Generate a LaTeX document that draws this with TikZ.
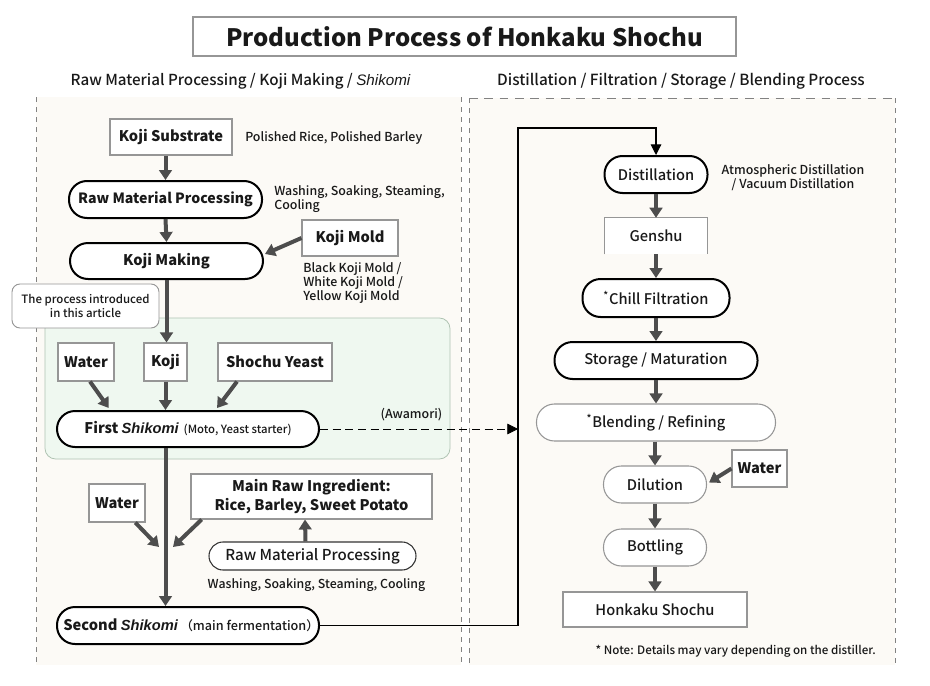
\documentclass[tikz,border=0pt]{standalone}
\usepackage{fontspec}
\setmainfont{Noto Sans CJK JP}
\newfontfamily\med{Noto Sans CJK JP Medium}
\newfontfamily\lib{Liberation Sans}
\usetikzlibrary{arrows.meta,calc}
\definecolor{panel}{RGB}{252,250,246}
\definecolor{greenfill}{RGB}{239,248,240}
\definecolor{greenline}{RGB}{175,195,178}
\definecolor{boxline}{RGB}{150,150,150}
\definecolor{arrgray}{RGB}{77,77,77}
\definecolor{txt}{RGB}{25,25,25}
\definecolor{dashcol}{RGB}{130,130,130}
\tikzset{
  sz/.style n args={2}{minimum width=#1*0.75pt, minimum height=#2*0.75pt},
  every node/.style={inner sep=0pt, text=txt, align=center},
  lbl/.style={font=\fontsize{11}{13}\selectfont\bfseries},
  mlbl/.style={font=\fontsize{11}{13}\selectfont\mdseries\med},
  sqbox/.style={draw=boxline, fill=white, line width=0.8pt, lbl},
  thickpill/.style={draw=black, fill=white, line width=1.5pt, rounded corners=13.5pt, lbl},
  thinpill/.style={draw=boxline, fill=white, line width=0.8pt, rounded corners=13.5pt, mlbl},
  flow/.style={draw=arrgray, line width=3pt, -{Triangle[width=9.5pt,length=7.5pt]}},
  link/.style={draw=black, line width=0.8pt, -{Triangle[width=8pt,length=8pt]}},
  desc/.style={font=\fontsize{9.3}{10.5}\selectfont\med, align=left},
  vdash/.style={draw=dashcol, line width=0.6pt, dash pattern=on 3.75pt off 3.75pt},
  hdash/.style={draw=dashcol, line width=0.6pt, dash pattern=on 6.5pt off 5pt},
}
\begin{document}
\begin{tikzpicture}[x=0.75pt,y=-0.75pt]
\useasboundingbox (0,0) rectangle (930,685);
\fill[white] (0,0) rectangle (930,685);

% title and headers
\node[draw=boxline, line width=0.8pt, sz={543}{39}, font=\fontsize{18}{21}\selectfont\bfseries] (title) at (464.5,36.5) {Production Process of Honkaku Shochu};
\node[font=\fontsize{11.4}{13}\selectfont\med] (hl) at (240.5,81) {Raw Material Processing / Koji Making / {\lib\itshape Shikomi}};
\node[font=\fontsize{11.5}{13}\selectfont\med] (hr) at (681,81) {Distillation / Filtration / Storage / Blending Process};

% panels
\fill[panel] (36,97) rectangle (461,665);
\draw[vdash] (36,97) -- (36,665);
\draw[vdash] (461,97) -- (461,665);
\fill[panel] (469,98) rectangle (895,665);
\draw[hdash] (469,98) -- (895,98);
\draw[vdash] (469,98) -- (469,665);
\draw[vdash] (895,98) -- (895,665);
\draw[draw=greenline, fill=greenfill, line width=0.6pt, rounded corners=8pt] (45,318) rectangle (450,459);

% left column
\node[sqbox, sz={122}{36}] (kojisub) at (171,137) {Koji Substrate};
\node[desc, anchor=west] (kojisubd) at (245,138) {Polished Rice, Polished Barley};
\node[thickpill, sz={193}{37}, font=\fontsize{10.6}{13}\selectfont\bfseries] (rmp1) at (165.5,199.5) {Raw Material Processing};
\node[desc, anchor=west] (rmp1d) at (274,199) {Washing, Soaking, Steaming,\\Cooling};
\node[sqbox, sz={96}{36}] (kojimold) at (350,238) {Koji Mold};
\node[desc, anchor=west] (kojimoldd) at (303,283) {Black Koji Mold /\\White Koji Mold /\\Yellow Koji Mold};
\node[thickpill, sz={193}{36}] (kojimaking) at (166.5,261) {Koji Making};
\node[draw=boxline, fill=white, line width=0.7pt, rounded corners=6pt, sz={147}{44}, font=\fontsize{8.6}{11}\selectfont\med] (callout) at (85.5,306) {The process introduced\\in this article};
\node[sqbox, sz={56}{38}] (water1) at (86,362) {Water};
\node[sqbox, sz={43}{38}] (koji) at (165.5,362) {Koji};
\node[sqbox, sz={114}{38}] (yeast) at (275,362) {Shochu Yeast};
\node[thickpill, sz={262}{36}] (first) at (188,429) {First {\lib\bfseries\itshape Shikomi}\,{\fontsize{8.5}{10}\selectfont\mdseries\med\ (Moto, Yeast starter)}};
\node[desc] (awamori) at (411.5,415) {(Awamori)};
\node[sqbox, sz={56}{38}] (water2) at (117,503) {Water};
\node[sqbox, sz={241}{45}, font=\fontsize{11}{14}\selectfont\bfseries] (mainraw) at (311.5,496.5) {Main Raw Ingredient:\\Rice, Barley, Sweet Potato};
\node[thinpill, sz={207}{28}, rounded corners=10.5pt, draw=black!80, font=\fontsize{11.3}{12}\selectfont\med] (rmp2) at (312.5,556) {Raw Material Processing};
\node[desc, font=\fontsize{9.25}{11}\selectfont\med] (rmp2d) at (316.5,585) {Washing, Soaking, Steaming, Cooling};
\node[thickpill, sz={262}{37}] (second) at (188,625.5) {Second {\lib\bfseries\itshape Shikomi}\,{\fontsize{9.5}{11}\selectfont\mdseries\med（main fermentation）\kern-0.5em}};

\coordinate (m1) at (159,547);
\coordinate (m2) at (173,547);
\coordinate (bend) at (518,128);

% right column
\node[thickpill, sz={103}{37}, mlbl] (distill) at (656,174.5) {Distillation};
\node[desc, align=center] (distilld) at (793,177.5) {Atmospheric Distillation\\/ Vacuum Distillation};
\node[fill=white, sz={103}{36}, mlbl] (genshu) at (656,236) {Genshu};
\draw[boxline, line width=0.7pt] (genshu.south west) -- (genshu.north west) -- (genshu.north east) -- (genshu.south east);
\node[thickpill, sz={147}{38}, mlbl] (chill) at (656,298) {\textsuperscript{*}Chill Filtration};
\node[thickpill, sz={203}{37}, mlbl] (storage) at (656,360.5) {Storage / Maturation};
\node[thinpill, sz={239}{37}] (blending) at (656,422.5) {\textsuperscript{*}Blending / Refining};
\node[thinpill, sz={103}{37}] (dilution) at (655,484.5) {Dilution};
\node[sqbox, sz={55}{37}] (water3) at (759.5,468.5) {Water};
\node[thinpill, sz={103}{37}] (bottling) at (655,547.5) {Bottling};
\node[sqbox, sz={184}{35}, mlbl] (honkaku) at (655,609.5) {Honkaku Shochu};
\node[desc, anchor=east, font=\fontsize{8.7}{10}\selectfont\med] (note) at (876,651) {* Note: Details may vary depending on the distiller.};

% left flows
\draw[flow] (kojisub.south -| rmp1.north) -- (rmp1.north);
\draw[flow] (rmp1.south) -- (kojimaking.north);
\draw[flow] (kojimold.west) -- ($(kojimaking.east)+(1,-7)$);
\draw[flow] (kojimaking.south) -- (kojimaking.south |- koji.north);
\draw[flow] ($(water1.south west)!0.57!(water1.south east)$) -- ($(first.north west)!0.2!(first.north east)+(0,-2)$);
\draw[flow] (koji.south) -- (koji.south |- first.north);
\draw[flow] ($(yeast.south west)!0.17!(yeast.south east)$) -- ($(first.north west)!0.61!(first.north east)+(0,-2)$);
\draw[flow] (first.south -| koji.south) -- (second.north -| koji.south);
\draw[flow] ($(water2.south west)!0.82!(water2.south east)$) -- (m1);
\draw[flow] ($(mainraw.south west)!0.046!(mainraw.south east)$) -- (m2);
\draw[flow] ($(rmp2.north)+(-7,0)$) -- ($(mainraw.south)+(-6.5,0)$);

% links
\draw[link, dash pattern=on 6pt off 3.5pt, line width=0.6pt] (first.east) -- (first.east -| bend);
\draw[link] (second.east) -| (bend) -| (distill.north);

% right flows
\draw[flow] (distill.south) -- (genshu.north);
\draw[flow] (genshu.south) -- (chill.north);
\draw[flow] (chill.south) -- (storage.north);
\draw[flow] (storage.south) -- (blending.north);
\draw[flow] (blending.south -| dilution.north) -- (dilution.north);
\draw[flow] (water3.west) -- ($(dilution.east)+(2,-2)$);
\draw[flow] (dilution.south) -- (bottling.north);
\draw[flow] (bottling.south) -- (honkaku.north);
\end{tikzpicture}
\end{document}
